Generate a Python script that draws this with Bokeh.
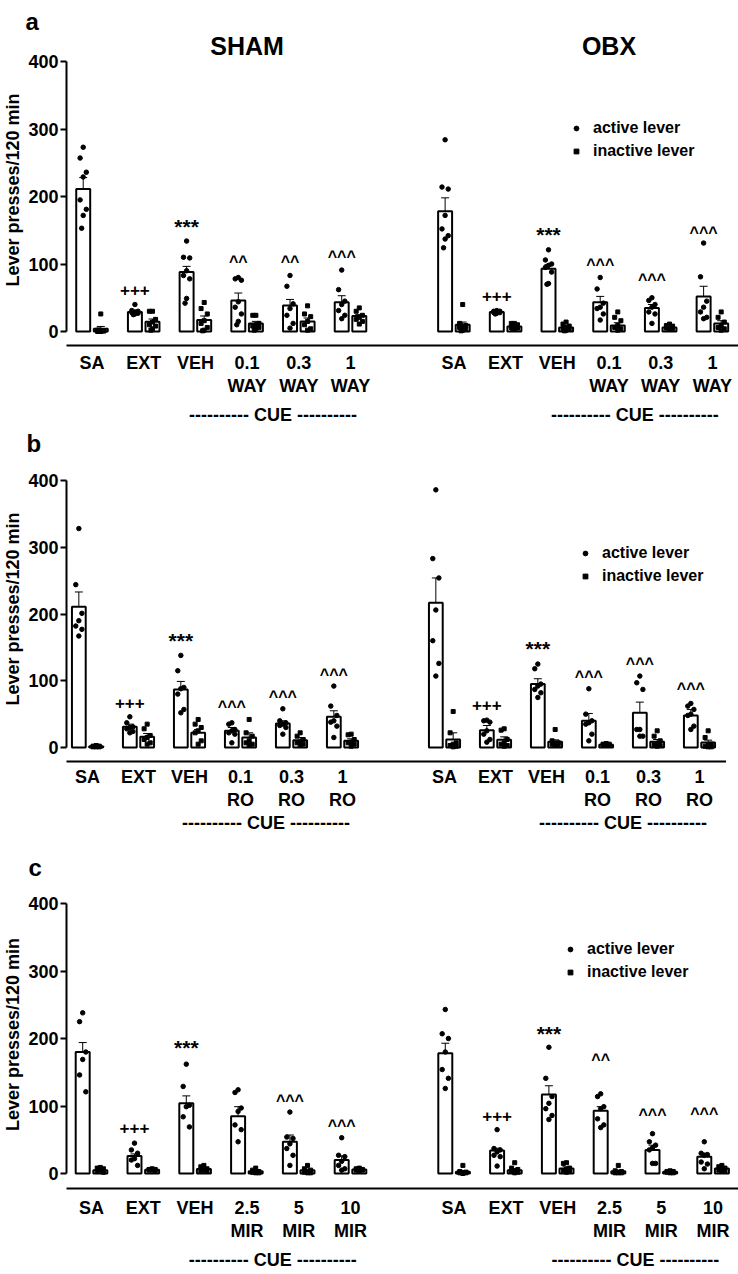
from bokeh.plotting import figure
from bokeh.layouts import column
from bokeh.models import (ColumnDataSource, Whisker, TeeHead, FixedTicker, LinearAxis,
                          Label, Legend, LegendItem, Range1d, Title)
from bokeh.core.properties import value
from bokeh.embed import file_html
from bokeh.resources import INLINE

FONT = "Liberation Sans"

# ---------------- data ----------------
Y_LABEL = "Lever presses/120 min"
Y_TICKS = [0, 100, 200, 300, 400]
CUE_TEXT = "---------- CUE ----------"
SIDES = ["SHAM", "OBX"]
A_LABELS = ["SA", "EXT", "VEH", "0.1\nWAY", "0.3\nWAY", "1\nWAY"]
B_LABELS = ["SA", "EXT", "VEH", "0.1\nRO", "0.3\nRO", "1\nRO"]
C_LABELS = ["SA", "EXT", "VEH", "2.5\nMIR", "5\nMIR", "10\nMIR"]

# panel a - SHAM
A_SHAM_ACT_MEAN = [211, 29, 88, 46, 38.5, 43.5]
A_SHAM_ACT_SEM = [17, 2, 8.5, 11, 9, 9.5]
A_SHAM_INA_MEAN = [4, 14.5, 17, 12, 15, 23]
A_SHAM_INA_SEM = [3.5, 4, 6, 3, 5, 2]
A_SHAM_ACT_PTS = [[273, 257, 236, 229, 195, 181, 172, 153], [40, 31, 30, 29, 28, 27, 26, 25],
                  [134, 110, 109, 90, 83, 78, 49, 42], [80, 78, 76, 44, 36, 26, 15, 10],
                  [83, 67, 41, 34, 24, 12, 5], [91, 62, 45, 40, 31, 24, 19]]
A_SHAM_INA_PTS = [[26, 2, 1, 0, 0, 1, 0, 2], [30, 30, 18, 14, 10, 8, 4, 2],
                  [43, 34, 26, 16, 12, 6, 2, 1], [24, 24, 12, 10, 8, 6, 4, 2],
                  [38, 26, 22, 15, 10, 4, 2], [35, 30, 24, 21, 18, 15, 11]]
A_SHAM_SIG = ["", "+++", "***", "^^", "^^", "^^^"]
A_SHAM_SIG_Y = [0, 61, 164, 110, 110, 117]
# panel a - OBX
A_OBX_ACT_MEAN = [178, 29, 93, 43.5, 35, 52]
A_OBX_ACT_SEM = [20, 1.5, 6, 8.5, 5, 15]
A_OBX_INA_MEAN = [10, 7.5, 6, 9, 6, 12]
A_OBX_INA_SEM = [4, 1.5, 1.5, 4, 1.5, 4]
A_OBX_ACT_PTS = [[284, 214, 211, 172, 152, 142, 137, 124], [31, 30, 30, 29, 28, 28, 27, 26],
                 [121, 106, 100, 98, 95, 88, 71, 70], [80, 63, 42, 36, 34, 26, 17],
                 [50, 46, 40, 36, 29, 26, 12], [131, 81, 45, 36, 29, 21, 19]]
A_OBX_INA_PTS = [[40, 12, 9, 7, 6, 4, 2, 1], [12, 12, 10, 8, 6, 5, 4, 3],
                 [14, 11, 8, 6, 4, 3, 2, 1], [29, 21, 16, 9, 6, 4, 2],
                 [11, 9, 8, 6, 5, 4, 3], [29, 21, 14, 9, 6, 4, 2]]
A_OBX_SIG = ["", "+++", "***", "^^^", "^^^", "^^^"]
A_OBX_SIG_Y = [0, 53, 152, 105, 83, 152]

# panel b - SHAM
B_SHAM_ACT_MEAN = [211, 31, 87, 25, 36, 46]
B_SHAM_ACT_SEM = [22, 4, 12, 5, 4, 9]
B_SHAM_INA_MEAN = [2, 16, 22, 15, 11, 10]
B_SHAM_INA_SEM = [1, 5, 5, 7, 4, 3]
B_SHAM_ACT_PTS = [[328, 244, 201, 190, 182, 177, 167], [46, 37, 31, 30, 28, 24, 22],
                  [138, 115, 90, 88, 80, 57, 52], [37, 35, 27, 25, 22, 20, 7],
                  [58, 40, 37, 35, 33, 30, 20], [92, 62, 48, 40, 38, 32, 15]]
B_SHAM_INA_PTS = [[3, 2, 2, 1, 1, 1, 2], [35, 28, 18, 15, 12, 7, 5],
                  [42, 35, 30, 25, 22, 10, 5], [42, 22, 17, 10, 7, 5, 3],
                  [22, 17, 12, 8, 7, 5, 3], [20, 19, 12, 8, 7, 5, 2]]
B_SHAM_SIG = ["", "+++", "***", "^^^", "^^^", "^^^"]
B_SHAM_SIG_Y = [0, 66, 170, 68, 83, 116]
# panel b - OBX
B_OBX_ACT_MEAN = [217, 26, 95, 40, 52, 48]
B_OBX_ACT_SEM = [37, 7, 8, 11, 16, 9]
B_OBX_INA_MEAN = [12, 11.5, 8.5, 4, 8.5, 7.5]
B_OBX_INA_SEM = [10, 4.5, 3, 1, 3.5, 3.5]
B_OBX_ACT_PTS = [[386, 283, 254, 206, 160, 126, 107], [41, 40, 38, 25, 20, 12, 8],
                 [125, 118, 95, 92, 87, 82, 75], [88, 50, 40, 37, 35, 20, 10],
                 [107, 97, 87, 27, 27, 17, 17], [66, 62, 57, 50, 48, 32, 27]]
B_OBX_INA_PTS = [[54, 22, 7, 5, 3, 2, 1], [28, 26, 12, 7, 5, 3, 2],
                 [27, 10, 7, 6, 5, 4, 3], [6, 5, 5, 4, 4, 3, 3],
                 [25, 17, 10, 5, 4, 3, 2], [25, 15, 5, 3, 2, 1, 1]]
B_OBX_SIG = ["", "+++", "***", "^^^", "^^^", "^^^"]
B_OBX_SIG_Y = [0, 63, 158, 112, 132, 95]

# panel c - SHAM
C_SHAM_ACT_MEAN = [180, 26, 104, 85, 47, 20]
C_SHAM_ACT_SEM = [14, 3, 11, 14, 10, 6]
C_SHAM_INA_MEAN = [5, 5.5, 6.5, 3.5, 5, 6]
C_SHAM_INA_SEM = [1.5, 1, 1.5, 1, 1.5, 0.5]
C_SHAM_ACT_PTS = [[238, 225, 180, 169, 146, 121], [45, 35, 30, 22, 20, 12],
                  [162, 129, 101, 99, 84, 69], [124, 120, 97, 92, 72, 65, 47],
                  [91, 54, 52, 44, 37, 27, 12], [53, 27, 25, 18, 12, 7, 5]]
C_SHAM_INA_PTS = [[9, 8, 7, 5, 3, 2], [7, 6, 6, 5, 5, 4],
                  [12, 10, 7, 5, 4, 3], [8, 5, 3, 2, 2, 1, 1],
                  [12, 7, 5, 3, 2, 1, 1], [8, 7, 6, 6, 5, 5, 4]]
C_SHAM_SIG = ["", "+++", "***", "", "^^^", "^^^"]
C_SHAM_SIG_Y = [0, 68, 195, 0, 114, 77]
# panel c - OBX
C_OBX_ACT_MEAN = [178, 34, 117, 93, 35, 25]
C_OBX_ACT_SEM = [15, 3.5, 13, 6, 7, 5]
C_OBX_INA_MEAN = [2.5, 5, 7.5, 3.5, 2.5, 7.5]
C_OBX_INA_SEM = [2, 2, 2.5, 1, 0.5, 2]
C_OBX_ACT_PTS = [[243, 207, 200, 180, 154, 141, 126], [65, 37, 35, 32, 27, 25, 11],
                 [187, 141, 114, 104, 96, 86, 80], [118, 114, 99, 96, 81, 72, 68],
                 [59, 47, 42, 38, 35, 15, 15], [47, 30, 28, 27, 17, 14, 7]]
C_OBX_INA_PTS = [[12, 3, 2, 1, 1, 1, 0], [16, 8, 6, 4, 3, 2, 1],
                 [16, 15, 8, 6, 4, 3, 2], [12, 4, 3, 2, 1, 1, 1],
                 [4, 3, 3, 2, 2, 1, 1], [12, 10, 8, 7, 5, 4, 3]]
C_OBX_SIG = ["", "+++", "***", "^^", "^^^", "^^^"]
C_OBX_SIG_Y = [0, 85, 216, 175, 94, 95]

# ---------------- layout / style ----------------
FRAME_LEFT = 63          # page px of the plot frame's left edge
SIDE_OFFSET = [0, 7]     # group index offset of SHAM / OBX
PAIR = 0.17
BAR_W = 0.27
JIT = [0.0, -0.06, 0.06, 0.0, -0.06, 0.06, 0.0, -0.03]
SIG_DY = {"+": 0, "*": 6, "^": 4}
SIG_FS = {"+": "17px", "*": "21px", "^": "16px"}

CFG_A = dict(min_top=34, ftop=34, top400=61, zero=331, xline=345, p0=88.5, s=51.7, right=738,
             st1=7, st2=6, leg_x=573, leg_y=128, let_x=22, title_y=45)
CFG_B = dict(min_top=0, ftop=457, top400=481, zero=748, xline=762, p0=84, s=51, right=723,
             st1=5, st2=0, leg_x=582, leg_y=554, let_x=23, title_y=None)
CFG_C = dict(min_top=45, ftop=880, top400=903, zero=1173, xline=1188, p0=88, s=51.8, right=736,
             st1=9, st2=6, leg_x=567, leg_y=949, let_x=25, title_y=None)


def style_text(obj, prefix, size):
    setattr(obj, prefix + "_text_font", FONT)
    setattr(obj, prefix + "_text_font_size", size)
    setattr(obj, prefix + "_text_font_style", "bold")
    setattr(obj, prefix + "_text_color", "black")


def build(cfg, letter, labels, sides):
    k = (cfg["zero"] - cfg["top400"]) / 400.0
    fh = cfg["xline"] - cfg["ftop"]
    y0 = -(cfg["xline"] - cfg["zero"]) / k
    y1 = y0 + fh / k
    fw = cfg["right"] - FRAME_LEFT
    x0 = (FRAME_LEFT - cfg["p0"]) / cfg["s"]
    x1 = (cfg["right"] - cfg["p0"]) / cfg["s"]
    p = figure(frame_width=fw, frame_height=fh, x_range=Range1d(x0, x1),
               y_range=Range1d(y0, y1), output_backend="svg", toolbar_location=None,
               min_border_left=FRAME_LEFT, min_border_right=0, min_border_top=cfg["min_top"],
               min_border_bottom=0, outline_line_color=None,
               background_fill_color="white", border_fill_color="white")
    p.xgrid.visible = False
    p.ygrid.visible = False
    p.title = Title(text=letter, align="left", offset=cfg["let_x"] - FRAME_LEFT, standoff=0,
                    text_font=FONT, text_font_size="24px", text_font_style="bold",
                    text_color="black")

    bar_x, bar_top, w_x, w_lo, w_hi = [], [], [], [], []
    ax, ay, ix, iy = [], [], [], []
    sx, sy, st, sdy, sfs = [], [], [], [], []
    for si, (am, asem, im, isem, apts, ipts, sig, sigy) in enumerate(sides):
        for g in range(len(am)):
            gx = g + SIDE_OFFSET[si]
            xa, xi = gx - PAIR, gx + PAIR
            bar_x += [xa, xi]
            bar_top += [am[g], im[g]]
            w_x += [xa, xi]
            w_lo += [am[g] - asem[g], im[g] - isem[g]]
            w_hi += [am[g] + asem[g], im[g] + isem[g]]
            for j, v in enumerate(apts[g]):
                ax.append(xa + JIT[j % len(JIT)])
                ay.append(v)
            for j, v in enumerate(ipts[g]):
                ix.append(xi + JIT[j % len(JIT)])
                iy.append(v)
            if sig[g]:
                sx.append(xa)
                sy.append(sigy[g])
                st.append(sig[g])
                sdy.append(SIG_DY[sig[g][0]])
                sfs.append(SIG_FS[sig[g][0]])

    p.vbar(x=bar_x, top=bar_top, bottom=0, width=BAR_W, fill_color="white",
           line_color="black", line_width=2)
    wsrc = ColumnDataSource(dict(x=w_x, lo=w_lo, hi=w_hi))
    p.add_layout(Whisker(base="x", lower="lo", upper="hi", source=wsrc, line_width=1,
                         line_color="black",
                         upper_head=TeeHead(size=8, line_width=1, line_color="black"),
                         lower_head=TeeHead(size=8, line_width=1, line_color="black")))
    r_act = p.scatter(ax, ay, marker="circle", size=4.5, color="black")
    r_ina = p.scatter(ix, iy, marker="square", size=4, color="black")
    tsrc = ColumnDataSource(dict(x=sx, y=sy, t=st, dy=sdy, fs=sfs))
    p.text(x="x", y="y", text="t", y_offset="dy", text_font_size="fs", source=tsrc,
           text_font=value(FONT), text_font_style="bold",
           text_align="center", text_baseline="middle", text_color="black")

    leg = Legend(items=[LegendItem(label="active lever", renderers=[r_act]),
                        LegendItem(label="inactive lever", renderers=[r_ina])],
                 location=(cfg["leg_x"] - 6 - FRAME_LEFT, cfg["xline"] - (cfg["leg_y"] - 10 + 43)),
                 glyph_width=12, glyph_height=12, label_standoff=11, spacing=3,
                 padding=0, margin=0, border_line_color=None, background_fill_alpha=0,
                 label_height=20)
    style_text(leg, "label", "16px")
    p.add_layout(leg)

    # y axis
    ya = p.yaxis[0]
    ya.ticker = FixedTicker(ticks=Y_TICKS)
    ya.bounds = (0, 400)
    ya.axis_label = Y_LABEL
    style_text(ya, "axis_label", "18px")
    ya.axis_label_standoff = 2
    style_text(ya, "major_label", "18px")
    ya.major_label_standoff = 2
    ya.major_tick_out = 6
    ya.major_tick_in = 0
    ya.major_tick_line_width = 2
    ya.major_tick_line_color = "black"
    ya.axis_line_width = 2
    ya.axis_line_color = "black"
    ya.minor_tick_line_color = None

    # x axis (group labels)
    ticks = [g + o for o in SIDE_OFFSET for g in range(len(labels))]
    xa_ = p.xaxis[0]
    xa_.ticker = FixedTicker(ticks=ticks)
    xa_.major_label_overrides = {t: labels[i % len(labels)] for i, t in enumerate(ticks)}
    xa_.major_tick_line_color = None
    xa_.minor_tick_line_color = None
    xa_.major_tick_out = 0
    xa_.major_tick_in = 0
    xa_.axis_line_width = 2
    xa_.axis_line_color = "black"
    style_text(xa_, "major_label", "18px")
    xa_.major_label_text_line_height = 1.15
    xa_.major_label_standoff = cfg["st1"]

    # CUE axis
    cue_ticks = [3.5 + o for o in SIDE_OFFSET]
    cue = LinearAxis(ticker=FixedTicker(ticks=cue_ticks),
                     major_label_overrides={t: CUE_TEXT for t in cue_ticks},
                     axis_line_color=None, major_tick_line_color=None,
                     minor_tick_line_color=None, major_tick_out=0, major_tick_in=0,
                     major_label_standoff=cfg["st2"])
    style_text(cue, "major_label", "18px")
    p.add_layout(cue, "below")

    if cfg["title_y"] is not None:
        for si, name in enumerate(SIDES):
            p.add_layout(Label(x=[3, 10][si], y=cfg["xline"] - cfg["title_y"], y_units="screen",
                               text=name, text_align="center", text_baseline="middle",
                               text_font=FONT, text_font_size="25px",
                               text_font_style="bold", text_color="black"))
    return p


pa = build(CFG_A, "a", A_LABELS, [
    (A_SHAM_ACT_MEAN, A_SHAM_ACT_SEM, A_SHAM_INA_MEAN, A_SHAM_INA_SEM, A_SHAM_ACT_PTS, A_SHAM_INA_PTS, A_SHAM_SIG, A_SHAM_SIG_Y),
    (A_OBX_ACT_MEAN, A_OBX_ACT_SEM, A_OBX_INA_MEAN, A_OBX_INA_SEM, A_OBX_ACT_PTS, A_OBX_INA_PTS, A_OBX_SIG, A_OBX_SIG_Y)])
pb = build(CFG_B, "b", B_LABELS, [
    (B_SHAM_ACT_MEAN, B_SHAM_ACT_SEM, B_SHAM_INA_MEAN, B_SHAM_INA_SEM, B_SHAM_ACT_PTS, B_SHAM_INA_PTS, B_SHAM_SIG, B_SHAM_SIG_Y),
    (B_OBX_ACT_MEAN, B_OBX_ACT_SEM, B_OBX_INA_MEAN, B_OBX_INA_SEM, B_OBX_ACT_PTS, B_OBX_INA_PTS, B_OBX_SIG, B_OBX_SIG_Y)])
pc = build(CFG_C, "c", C_LABELS, [
    (C_SHAM_ACT_MEAN, C_SHAM_ACT_SEM, C_SHAM_INA_MEAN, C_SHAM_INA_SEM, C_SHAM_ACT_PTS, C_SHAM_INA_PTS, C_SHAM_SIG, C_SHAM_SIG_Y),
    (C_OBX_ACT_MEAN, C_OBX_ACT_SEM, C_OBX_INA_MEAN, C_OBX_INA_SEM, C_OBX_ACT_PTS, C_OBX_INA_PTS, C_OBX_SIG, C_OBX_SIG_Y)])

layout = column(pa, pb, pc, spacing=0)
open("out.html", "w").write(file_html(layout, INLINE))
